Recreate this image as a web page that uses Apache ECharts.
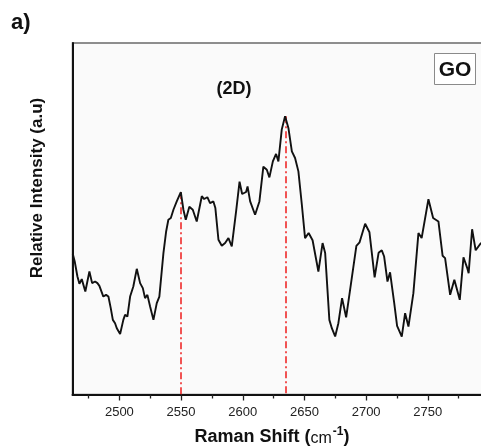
<!DOCTYPE html>
<html>
<head>
<meta charset="utf-8">
<script src="https://cdn.jsdelivr.net/npm/echarts@6/dist/echarts.min.js"></script>
<style>
html,body{margin:0;padding:0;background:#fff;}
#c{width:481px;height:447px;}
</style>
</head>
<body>
<div id="c"></div>
<script>
// Raman shift (cm^-1)
var shift = [2462.2,2463.8,2466.0,2467.6,2469.5,2472.4,2475.7,2477.9,2480.3,2482.2,2483.8,2487.0,2489.2,2491.1,2493.0,2494.7,2496.5,2497.9,2500.6,2503.2,2504.6,2506.5,2508.7,2511.3,2514.1,2516.8,2519.0,2520.8,2522.7,2524.9,2527.6,2530.3,2532.4,2535.7,2537.9,2539.7,2541.7,2543.8,2546.5,2549.8,2551.9,2553.8,2556.7,2559.5,2562.7,2566.8,2568.7,2571.3,2573.5,2576.2,2577.8,2580.3,2583.0,2585.7,2588.4,2591.1,2594.6,2597.4,2599.5,2602.7,2603.9,2606.0,2610.0,2613.5,2616.7,2619.5,2621.6,2624.4,2627.0,2628.9,2631.6,2634.3,2637.0,2639.8,2642.4,2645.1,2647.9,2650.5,2653.4,2656.6,2661.3,2664.7,2666.8,2670.2,2672.2,2674.9,2677.5,2680.5,2683.8,2687.0,2692.1,2694.7,2699.2,2702.7,2706.9,2710.1,2712.7,2714.6,2717.3,2719.4,2722.7,2725.1,2728.9,2731.6,2734.3,2738.3,2742.4,2745.0,2750.5,2754.3,2758.6,2762.0,2764.0,2768.1,2771.5,2775.9,2778.9,2781.9,2783.1,2785.9,2788.8,2793.2];
// Relative intensity (a.u)
var intensity = [140.5,132.8,117.8,110.5,115.2,102.8,122.8,111.2,112.8,111.2,108.5,97.8,99.5,97.8,86.2,74.5,71.2,66.2,60.5,74.5,79.5,77.8,97.8,107.8,125.5,111.2,106.2,96.2,99.5,87.8,74.5,91.2,97.8,141.2,162.8,174.5,176.2,184.5,192.8,202,184.5,174.5,187.5,184.5,172.8,198,195.2,197,191.2,192.8,186.2,154.5,148.5,151.2,156.2,147.8,182.8,212.5,200.2,202.2,207.8,192.8,179.5,192.8,227.5,224.5,216.8,232.8,240.2,232.8,264.5,277.8,266.2,242.8,236.2,222.8,189.5,156.2,161.2,154,122.8,151.2,141.2,74.5,66.2,58,71.2,96.2,77,104.5,148.5,152,170.5,162,117,141.5,144,137.8,112.8,122,92,68.5,57.8,81.2,67.8,101.2,161.2,156.2,195,176.2,172.8,138.5,136.2,99.5,114.5,94.5,137,126.5,121.2,165,144,151.5];
// Marked peaks
var peakShift = [2549.8, 2634.5];
var peakIntensity = [202, 277.8];
// Tick labels
var majorTicks = [2500, 2550, 2600, 2650, 2700, 2750];
var minorTicks = [2475, 2525, 2575, 2625, 2675, 2725, 2775];

var FONT = 'Liberation Sans, Arial, sans-serif';
var chart = echarts.init(document.getElementById('c'), null, {renderer: 'canvas'});

var markData = peakShift.map(function (s, i) {
  return [{coord: [s, peakIntensity[i]]}, {coord: [s, 0]}];
});

var option = {
  animation: false,
  backgroundColor: '#ffffff',
  grid: {
    left: 72.5, right: -8.5, top: 43, bottom: 52.5,
    outerBoundsMode: 'none', containLabel: false,
    show: true, backgroundColor: '#fafafa', borderColor: '#6a6a6a', borderWidth: 1.5
  },
  xAxis: [{
    type: 'value', min: 2462, max: 2800,
    axisLine: {show: true, onZero: false, lineStyle: {color: '#111', width: 2}},
    axisTick: {show: true, customValues: majorTicks, length: 6, lineStyle: {color: '#222', width: 1.3}},
    axisLabel: {show: true, customValues: majorTicks, margin: 11, color: '#222', fontSize: 13, fontFamily: FONT,
      formatter: function (v) { return String(v); }},
    splitLine: {show: false}
  }, {
    type: 'value', min: 2462, max: 2800, position: 'bottom',
    axisLine: {show: false, onZero: false},
    axisTick: {show: true, customValues: minorTicks, length: 4, lineStyle: {color: '#222', width: 1.3}},
    axisLabel: {show: false},
    splitLine: {show: false}
  }],
  yAxis: {
    type: 'value', min: 0, max: 351,
    axisLine: {show: true, onZero: false, lineStyle: {color: '#111', width: 2}},
    axisTick: {show: false},
    axisLabel: {show: false},
    splitLine: {show: false}
  },
  series: [{
    type: 'line',
    xAxisIndex: 0,
    data: shift.map(function (s, i) { return [s, intensity[i]]; }),
    showSymbol: false,
    symbol: 'none',
    lineStyle: {color: '#111', width: 1.9},
    z: 3,
    markLine: {
      silent: true,
      symbol: ['none', 'none'],
      label: {show: false},
      lineStyle: {color: '#ee1c1c', width: 1.5, type: [7, 3, 2, 3]},
      data: markData,
      z: 2
    }
  }],
  graphic: [
    {type: 'text', left: 11, top: 12, style: {text: 'a)', font: 'bold 22px ' + FONT, fill: '#111'}},
    {type: 'text', x: 234, y: 89, style: {text: '(2D)', font: 'bold 18px ' + FONT, fill: '#111', align: 'center', verticalAlign: 'middle'}},
    {type: 'rect', shape: {x: 434.5, y: 53.5, width: 41, height: 31}, style: {fill: '#ffffff', stroke: '#8a8a8a', lineWidth: 1}},
    {type: 'text', x: 455, y: 70, style: {text: 'GO', font: 'bold 21px ' + FONT, fill: '#111', align: 'center', verticalAlign: 'middle'}},
    {type: 'text', x: 37.5, y: 188, rotation: Math.PI / 2,
     style: {text: 'Relative Intensity (a.u)', font: 'bold 17px ' + FONT, fill: '#111', align: 'center', verticalAlign: 'middle'}},
    {type: 'text', x: 272, y: 437,
     style: {
       text: '{b|Raman Shift (}{c|cm}{s|-1}{b|)}',
       align: 'center', verticalAlign: 'middle',
       rich: {
         b: {font: 'bold 18px ' + FONT, fill: '#111'},
         c: {font: '16px ' + FONT, fill: '#111', padding: [4, 0, 0, 0]},
         s: {font: 'bold 12px ' + FONT, fill: '#111', padding: [0, 0, 10, 1]}
       }
     }}
  ]
};
chart.setOption(option);
</script>
</body>
</html>
